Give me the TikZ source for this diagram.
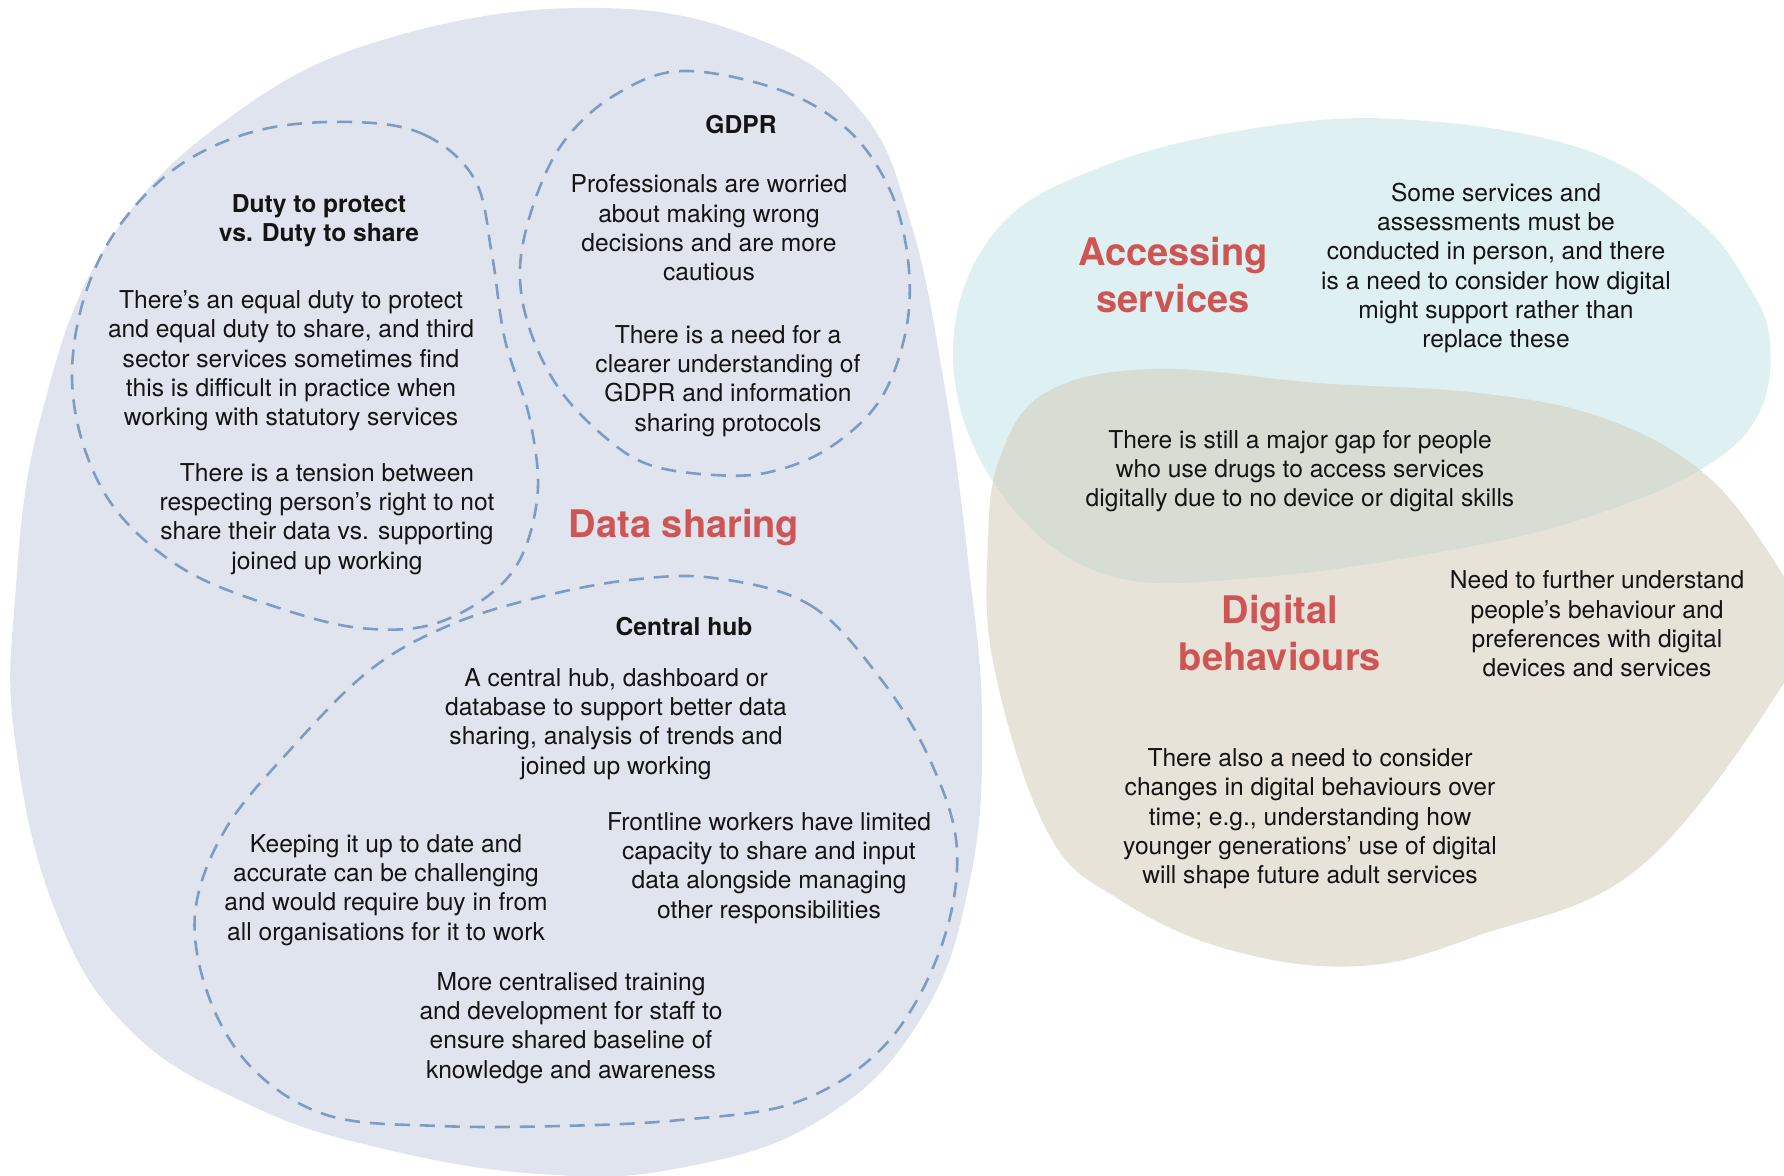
\documentclass[tikz,border=0pt]{standalone}
\usepackage{fontspec}
\setmainfont{TeX Gyre Heros}
\usetikzlibrary{positioning}
\definecolor{sharingfill}{RGB}{223,228,238}
\definecolor{accessfill}{RGB}{222,240,242}
\definecolor{behavefill}{RGB}{232,227,216}
\definecolor{overlapfill}{RGB}{216,221,212}
\definecolor{dashblue}{RGB}{127,156,192}
\definecolor{themered}{RGB}{207,85,85}
\definecolor{inkblack}{RGB}{20,20,20}
\newcommand{\accessblob}{plot[smooth cycle,tension=0.65] coordinates {(1414,120) (1586,150) (1694,217) (1747,283) (1770,343) (1757,417) (1700,470) (1600,513) (1478,545) (1263,577) (1101,573) (994,483) (953,353) (994,233) (1101,167) (1263,127)}}
\newcommand{\behaveblob}{plot[smooth cycle,tension=0.65] coordinates {(1155,369) (1317,383) (1478,393) (1600,417) (1700,470) (1767,550) (1800,620) (1784,683) (1640,867) (1480,935) (1360,966) (1230,950) (1120,900) (1048,833) (994,667) (988,540) (1001,455) (1047,392)}}

\begin{document}
\begin{tikzpicture}[x=0.5pt,y=-0.5pt,
		every node/.append style={align=center,text=inkblack,font=\fontsize{12.3}{14.65}\selectfont},
		heading/.style={font=\fontsize{12.3}{14.65}\selectfont\bfseries},
		theme/.style={text=themered,font=\fontsize{19}{23.3}\selectfont\bfseries},
		topic/.style={draw=dashblue,line width=1.3pt,dash pattern=on 7.5pt off 5pt}
	]
	\useasboundingbox (0,0) rectangle (1784,1176);
	% the three themes
	\fill[sharingfill] plot[smooth cycle,tension=0.7] coordinates {(600,8) (760,40) (860,110) (910,220) (944,383) (968,560) (982,720) (970,880) (920,1020) (820,1120) (680,1168) (540,1174) (380,1148) (250,1105) (130,1030) (55,910) (15,740) (15,600) (40,420) (110,240) (240,110) (400,35)};
	\fill[accessfill] \accessblob;
	\fill[behavefill] \behaveblob;
	\begin{scope}
		\clip \accessblob;
		\fill[overlapfill] \behaveblob;
	\end{scope}
	% dashed topics inside data sharing
	\draw[topic] plot[smooth cycle,tension=0.6] coordinates {(353,122) (425,135) (475,180) (492,255) (505,340) (530,420) (537,500) (510,575) (440,622) (360,628) (270,605) (185,570) (120,515) (85,450) (72,375) (85,295) (120,225) (180,165) (260,130)};
	\draw[topic] plot[smooth cycle,tension=0.6] coordinates {(682,71) (780,90) (848,130) (890,190) (908,260) (906,330) (880,400) (829,448) (770,472) (714,475) (650,465) (606,438) (560,390) (530,330) (520,268) (535,200) (565,140) (615,95)};
	\draw[topic] plot[smooth cycle,tension=0.6] coordinates {(714,578) (810,605) (880,678) (930,760) (957,850) (940,950) (885,1045) (797,1102) (680,1120) (560,1126) (440,1126) (330,1116) (255,1071) (210,1000) (195,914) (225,830) (290,750) (370,670) (450,625) (540,597) (630,580)};

	\node[heading] (dutyhead) at (319,221) {Duty to protect\\vs. Duty to share};
	\node (dutyequal) at (291,361) {There’s an equal duty to protect\\and equal duty to share, and third\\sector services sometimes find\\this is difficult in practice when\\working with statutory services};
	\node (dutytension) at (327,519) {There is a tension between\\respecting person’s right to not\\share their data vs. supporting\\joined up working};
	\node[heading] (gdprhead) at (741,125) {GDPR};
	\node (gdprworry) at (709,228) {Professionals are worried\\about making wrong\\decisions and are more\\cautious};
	\node (gdprneed) at (728,381) {There is a need for a\\clearer understanding of\\GDPR and information\\sharing protocols};
	\node[theme] (sharing) at (684,527) {Data sharing};
	\node[heading] (hubhead) at (684,627) {Central hub};
	\node (hubidea) at (616,724) {A central hub, dashboard or\\database to support better data\\sharing, analysis of trends and\\joined up working};
	\node (hubupdate) at (386,890) {Keeping it up to date and\\accurate can be challenging\\and would require buy in from\\all organisations for it to work};
	\node (hubfront) at (769,868) {Frontline workers have limited\\capacity to share and input\\data alongside managing\\other responsibilities};
	\node (hubtrain) at (571,1028) {More centralised training\\and development for staff to\\ensure shared baseline of\\knowledge and awareness};

	\node[theme] (access) at (1173,275) {Accessing\\services};
	\node (accessperson) at (1496,268) {Some services and\\assessments must be\\conducted in person, and there\\is a need to consider how digital\\might support rather than\\replace these};
	\node (accessgap) at (1300,471) {There is still a major gap for people\\who use drugs to access services\\digitally due to no device or digital skills};
	\node[theme] (behave) at (1280,633) {Digital\\behaviours};
	\node (behaveprefs) at (1597,624) {Need to further understand\\people’s behaviour and\\preferences with digital\\devices and services};
	\node (behavechange) at (1310,819) {There also a need to consider\\changes in digital behaviours over\\time; e.g., understanding how\\younger generations’ use of digital\\will shape future adult services};
\end{tikzpicture}
\end{document}
